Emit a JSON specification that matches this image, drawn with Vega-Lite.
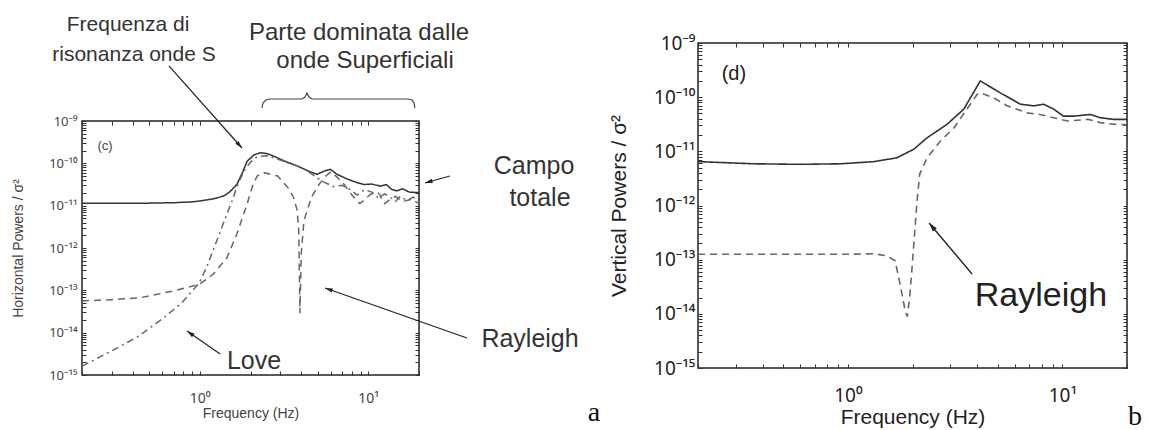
{
  "$schema": "https://vega.github.io/schema/vega-lite/v6.json",
  "background": "white",
  "autosize": {"type": "pad"},
  "padding": {"left": 10, "top": 13, "right": 0, "bottom": 0},
  "config": {
    "view": {"stroke": "#222", "strokeWidth": 1.5},
    "axis": {"grid": false, "domain": false, "tickColor": "#333", "tickSize": -4, "labelFont": "Noto Sans", "titleFont": "Liberation Sans", "titleFontWeight": "normal", "labelColor": "#333", "titleColor": "#333"},
    "text": {"font": "Liberation Sans"}
  },
  "datasets": {
    "leftCurves": [
      {"series": "total", "f": 0.2, "lp": -10.94}, {"series": "total", "f": 0.3, "lp": -10.94}, {"series": "total", "f": 0.5, "lp": -10.94}, {"series": "total", "f": 0.7, "lp": -10.93}, {"series": "total", "f": 0.9, "lp": -10.91}, {"series": "total", "f": 1.0, "lp": -10.89}, {"series": "total", "f": 1.2, "lp": -10.84}, {"series": "total", "f": 1.39, "lp": -10.77}, {"series": "total", "f": 1.5, "lp": -10.68}, {"series": "total", "f": 1.66, "lp": -10.5}, {"series": "total", "f": 1.8, "lp": -10.2}, {"series": "total", "f": 1.91, "lp": -9.95}, {"series": "total", "f": 2.1, "lp": -9.8}, {"series": "total", "f": 2.29, "lp": -9.75}, {"series": "total", "f": 2.5, "lp": -9.77}, {"series": "total", "f": 2.75, "lp": -9.83}, {"series": "total", "f": 3.2, "lp": -9.95}, {"series": "total", "f": 3.78, "lp": -10.06}, {"series": "total", "f": 4.4, "lp": -10.18}, {"series": "total", "f": 4.96, "lp": -10.26}, {"series": "total", "f": 5.5, "lp": -10.18}, {"series": "total", "f": 5.96, "lp": -10.14}, {"series": "total", "f": 6.52, "lp": -10.26}, {"series": "total", "f": 7.5, "lp": -10.37}, {"series": "total", "f": 8.5, "lp": -10.45}, {"series": "total", "f": 9.4, "lp": -10.5}, {"series": "total", "f": 10.5, "lp": -10.49}, {"series": "total", "f": 11.8, "lp": -10.54}, {"series": "total", "f": 12.8, "lp": -10.5}, {"series": "total", "f": 13.8, "lp": -10.62}, {"series": "total", "f": 14.8, "lp": -10.65}, {"series": "total", "f": 16, "lp": -10.6}, {"series": "total", "f": 17.5, "lp": -10.68}, {"series": "total", "f": 19.5, "lp": -10.69}, {"series": "total", "f": 20, "lp": -10.7},
      {"series": "rayleigh", "f": 0.2, "lp": -13.25}, {"series": "rayleigh", "f": 0.3, "lp": -13.22}, {"series": "rayleigh", "f": 0.435, "lp": -13.18}, {"series": "rayleigh", "f": 0.55, "lp": -13.1}, {"series": "rayleigh", "f": 0.684, "lp": -13.02}, {"series": "rayleigh", "f": 0.85, "lp": -12.93}, {"series": "rayleigh", "f": 1.0, "lp": -12.85}, {"series": "rayleigh", "f": 1.2, "lp": -12.62}, {"series": "rayleigh", "f": 1.45, "lp": -12.23}, {"series": "rayleigh", "f": 1.66, "lp": -11.67}, {"series": "rayleigh", "f": 1.91, "lp": -10.96}, {"series": "rayleigh", "f": 2.05, "lp": -10.55}, {"series": "rayleigh", "f": 2.19, "lp": -10.3}, {"series": "rayleigh", "f": 2.4, "lp": -10.22}, {"series": "rayleigh", "f": 2.9, "lp": -10.3}, {"series": "rayleigh", "f": 3.35, "lp": -10.58}, {"series": "rayleigh", "f": 3.6, "lp": -10.8}, {"series": "rayleigh", "f": 3.78, "lp": -11.1}, {"series": "rayleigh", "f": 3.87, "lp": -11.6}, {"series": "rayleigh", "f": 3.93, "lp": -13.54}, {"series": "rayleigh", "f": 4.0, "lp": -12.15}, {"series": "rayleigh", "f": 4.15, "lp": -11.36}, {"series": "rayleigh", "f": 4.6, "lp": -10.8}, {"series": "rayleigh", "f": 5.1, "lp": -10.5}, {"series": "rayleigh", "f": 5.6, "lp": -10.3}, {"series": "rayleigh", "f": 6.0, "lp": -10.2}, {"series": "rayleigh", "f": 6.5, "lp": -10.32}, {"series": "rayleigh", "f": 7.2, "lp": -10.5}, {"series": "rayleigh", "f": 8.0, "lp": -10.75}, {"series": "rayleigh", "f": 8.9, "lp": -10.95}, {"series": "rayleigh", "f": 9.6, "lp": -10.85}, {"series": "rayleigh", "f": 10.3, "lp": -10.73}, {"series": "rayleigh", "f": 11.5, "lp": -10.7}, {"series": "rayleigh", "f": 12.5, "lp": -10.95}, {"series": "rayleigh", "f": 13.5, "lp": -10.85}, {"series": "rayleigh", "f": 14.5, "lp": -10.78}, {"series": "rayleigh", "f": 16, "lp": -10.9}, {"series": "rayleigh", "f": 18, "lp": -10.85}, {"series": "rayleigh", "f": 20, "lp": -10.95},
      {"series": "love", "f": 0.2, "lp": -14.79}, {"series": "love", "f": 0.314, "lp": -14.39}, {"series": "love", "f": 0.435, "lp": -14.08}, {"series": "love", "f": 0.597, "lp": -13.68}, {"series": "love", "f": 0.78, "lp": -13.3}, {"series": "love", "f": 0.99, "lp": -12.83}, {"series": "love", "f": 1.1, "lp": -12.45}, {"series": "love", "f": 1.2, "lp": -12.05}, {"series": "love", "f": 1.3, "lp": -11.7}, {"series": "love", "f": 1.4, "lp": -11.35}, {"series": "love", "f": 1.55, "lp": -10.9}, {"series": "love", "f": 1.7, "lp": -10.45}, {"series": "love", "f": 1.85, "lp": -10.15}, {"series": "love", "f": 2.0, "lp": -9.97}, {"series": "love", "f": 2.2, "lp": -9.84}, {"series": "love", "f": 2.5, "lp": -9.82}, {"series": "love", "f": 3.0, "lp": -9.92}, {"series": "love", "f": 3.5, "lp": -10.02}, {"series": "love", "f": 4.0, "lp": -10.1}, {"series": "love", "f": 4.5, "lp": -10.22}, {"series": "love", "f": 5.0, "lp": -10.35}, {"series": "love", "f": 5.5, "lp": -10.45}, {"series": "love", "f": 6.2, "lp": -10.55}, {"series": "love", "f": 7.0, "lp": -10.52}, {"series": "love", "f": 7.8, "lp": -10.62}, {"series": "love", "f": 8.6, "lp": -10.75}, {"series": "love", "f": 9.5, "lp": -10.62}, {"series": "love", "f": 10.5, "lp": -10.68}, {"series": "love", "f": 11.5, "lp": -10.82}, {"series": "love", "f": 12.5, "lp": -10.72}, {"series": "love", "f": 13.5, "lp": -10.8}, {"series": "love", "f": 14.5, "lp": -10.9}, {"series": "love", "f": 15.5, "lp": -10.78}, {"series": "love", "f": 17, "lp": -10.88}, {"series": "love", "f": 18.5, "lp": -10.8}, {"series": "love", "f": 20, "lp": -10.9}
    ],
    "rightCurves": [
      {"series": "total", "f": 0.2, "lp": -11.19}, {"series": "total", "f": 0.364, "lp": -11.23}, {"series": "total", "f": 0.6, "lp": -11.24}, {"series": "total", "f": 0.923, "lp": -11.23}, {"series": "total", "f": 1.32, "lp": -11.19}, {"series": "total", "f": 1.69, "lp": -11.12}, {"series": "total", "f": 2.03, "lp": -10.96}, {"series": "total", "f": 2.34, "lp": -10.75}, {"series": "total", "f": 2.9, "lp": -10.5}, {"series": "total", "f": 3.47, "lp": -10.22}, {"series": "total", "f": 4.14, "lp": -9.7}, {"series": "total", "f": 5.13, "lp": -9.92}, {"series": "total", "f": 6.37, "lp": -10.13}, {"series": "total", "f": 7.35, "lp": -10.16}, {"series": "total", "f": 8.18, "lp": -10.13}, {"series": "total", "f": 9.1, "lp": -10.22}, {"series": "total", "f": 10.1, "lp": -10.35}, {"series": "total", "f": 11.3, "lp": -10.35}, {"series": "total", "f": 13.5, "lp": -10.32}, {"series": "total", "f": 15.0, "lp": -10.38}, {"series": "total", "f": 17.3, "lp": -10.41}, {"series": "total", "f": 20, "lp": -10.41},
      {"series": "rayleigh", "f": 0.2, "lp": -12.9}, {"series": "rayleigh", "f": 0.5, "lp": -12.9}, {"series": "rayleigh", "f": 1.0, "lp": -12.9}, {"series": "rayleigh", "f": 1.32, "lp": -12.89}, {"series": "rayleigh", "f": 1.52, "lp": -12.93}, {"series": "rayleigh", "f": 1.66, "lp": -13.02}, {"series": "rayleigh", "f": 1.75, "lp": -13.45}, {"series": "rayleigh", "f": 1.85, "lp": -13.95}, {"series": "rayleigh", "f": 1.89, "lp": -14.05}, {"series": "rayleigh", "f": 1.94, "lp": -13.7}, {"series": "rayleigh", "f": 1.99, "lp": -13.15}, {"series": "rayleigh", "f": 2.1, "lp": -11.92}, {"series": "rayleigh", "f": 2.16, "lp": -11.42}, {"series": "rayleigh", "f": 2.34, "lp": -11.12}, {"series": "rayleigh", "f": 2.7, "lp": -10.81}, {"series": "rayleigh", "f": 3.13, "lp": -10.56}, {"series": "rayleigh", "f": 3.72, "lp": -10.13}, {"series": "rayleigh", "f": 4.0, "lp": -9.95}, {"series": "rayleigh", "f": 4.14, "lp": -9.92}, {"series": "rayleigh", "f": 4.78, "lp": -10.01}, {"series": "rayleigh", "f": 5.52, "lp": -10.16}, {"series": "rayleigh", "f": 6.84, "lp": -10.29}, {"series": "rayleigh", "f": 7.85, "lp": -10.32}, {"series": "rayleigh", "f": 9.1, "lp": -10.38}, {"series": "rayleigh", "f": 10.6, "lp": -10.44}, {"series": "rayleigh", "f": 13.2, "lp": -10.41}, {"series": "rayleigh", "f": 15.0, "lp": -10.47}, {"series": "rayleigh", "f": 17.3, "lp": -10.5}, {"series": "rayleigh", "f": 20, "lp": -10.51}
    ],
    "brace": [
      {"f": 2.34, "lp": -8.693}, {"f": 2.37, "lp": -8.575}, {"f": 2.47, "lp": -8.504}, {"f": 2.61, "lp": -8.48}, {"f": 4.04, "lp": -8.48}, {"f": 4.21, "lp": -8.433}, {"f": 4.33, "lp": -8.339}, {"f": 4.45, "lp": -8.433}, {"f": 4.63, "lp": -8.48}, {"f": 17.2, "lp": -8.48}, {"f": 18.2, "lp": -8.504}, {"f": 18.7, "lp": -8.575}, {"f": 18.9, "lp": -8.693}
    ],
    "arrowsLeft": [
      {"f1": 0.656, "l1": -7.7, "f2": 1.78, "l2": -9.638, "heading": 138},
      {"f1": 30.5, "l1": -10.3, "f2": 21.7, "l2": -10.465, "heading": 254},
      {"f1": 38.5, "l1": -14.126, "f2": 5.54, "l2": -12.945, "heading": 289},
      {"f1": 1.32, "l1": -14.504, "f2": 0.84, "l2": -13.961, "heading": 305}
    ],
    "arrowsRight": [
      {"f1": 3.79, "l1": -13.264, "f2": 2.39, "l2": -12.323, "heading": 320}
    ]
  },
  "bounds": "flush",
  "spacing": 616,
  "hconcat": [
    {
      "bounds": "flush",
      "spacing": 0,
      "vconcat": [
        {
          "width": 337,
          "height": 78,
          "view": {"stroke": null},
          "data": {"values": [{}]},
          "mark": "text",
          "encoding": {"text": {"value": ""}}
        },
        {
          "width": 337,
          "height": 254,
          "resolve": {"axis": {"x": "independent", "y": "independent"}},
          "layer": [
            {
              "data": {"name": "leftCurves"},
              "mark": {"type": "line", "strokeWidth": 1.5},
              "encoding": {
                "x": {"field": "f", "type": "quantitative", "scale": {"type": "log", "domain": [0.2, 20], "nice": false},
                  "axis": {"title": "Frequency (Hz)", "values": [0.2, 0.3, 0.4, 0.5, 0.6, 0.7, 0.8, 0.9, 1, 2, 3, 4, 5, 6, 7, 8, 9, 10, 20], "labelExpr": "datum.value == 1 ? '10⁰' : (datum.value == 10 ? '10¹' : '')", "labelFontSize": 14, "titleFontSize": 14, "labelPadding": 20, "titlePadding": 1, "labelColor": "#444", "titleColor": "#444"}},
                "y": {"field": "lp", "type": "quantitative", "scale": {"domain": [-15, -9], "nice": false, "zero": false},
                  "axis": {"title": "Horizontal Powers / σ²", "values": [-15, -14.699, -14.523, -14.398, -14.301, -14.222, -14.155, -14.097, -14.046, -14, -13.699, -13.523, -13.398, -13.301, -13.222, -13.155, -13.097, -13.046, -13, -12.699, -12.523, -12.398, -12.301, -12.222, -12.155, -12.097, -12.046, -12, -11.699, -11.523, -11.398, -11.301, -11.222, -11.155, -11.097, -11.046, -11, -10.699, -10.523, -10.398, -10.301, -10.222, -10.155, -10.097, -10.046, -10, -9.699, -9.523, -9.398, -9.301, -9.222, -9.155, -9.097, -9.046, -9], "labelExpr": "datum.value == round(datum.value) ? ['10⁻¹⁵','10⁻¹⁴','10⁻¹³','10⁻¹²','10⁻¹¹','10⁻¹⁰','10⁻⁹'][datum.value + 15] : ''", "labelFontSize": 13, "titleFontSize": 14, "labelPadding": 9, "titlePadding": 23, "labelColor": "#444", "titleColor": "#444"}},
                "color": {"field": "series", "type": "nominal", "scale": {"domain": ["total", "rayleigh", "love"], "range": ["#333333", "#666666", "#666666"]}, "legend": null},
                "strokeDash": {"field": "series", "type": "nominal", "scale": {"domain": ["total", "rayleigh", "love"], "range": [[1, 0], [7, 5], [7, 4, 2, 4]]}, "legend": null}
              }
            },
            {
              "data": {"name": "leftCurves"},
              "mark": {"type": "point", "opacity": 0},
              "encoding": {
                "x": {"field": "f", "type": "quantitative", "scale": {"type": "log", "domain": [0.2, 20], "nice": false},
                  "axis": {"orient": "top", "labels": false, "title": null, "values": [0.2, 0.3, 0.4, 0.5, 0.6, 0.7, 0.8, 0.9, 1, 2, 3, 4, 5, 6, 7, 8, 9, 10, 20]}},
                "y": {"field": "lp", "type": "quantitative", "scale": {"domain": [-15, -9], "nice": false, "zero": false},
                  "axis": {"orient": "right", "labels": false, "title": null, "values": [-15, -14.699, -14.523, -14.398, -14.301, -14.222, -14.155, -14.097, -14.046, -14, -13.699, -13.523, -13.398, -13.301, -13.222, -13.155, -13.097, -13.046, -13, -12.699, -12.523, -12.398, -12.301, -12.222, -12.155, -12.097, -12.046, -12, -11.699, -11.523, -11.398, -11.301, -11.222, -11.155, -11.097, -11.046, -11, -10.699, -10.523, -10.398, -10.301, -10.222, -10.155, -10.097, -10.046, -10, -9.699, -9.523, -9.398, -9.301, -9.222, -9.155, -9.097, -9.046, -9]}}
              }
            },
            {
              "data": {"name": "brace"},
              "mark": {"type": "line", "color": "#444", "strokeWidth": 1.2},
              "encoding": {
                "x": {"field": "f", "type": "quantitative", "scale": {"type": "log", "domain": [0.2, 20], "nice": false}, "axis": null},
                "y": {"field": "lp", "type": "quantitative", "scale": {"domain": [-15, -9], "nice": false, "zero": false}, "axis": null}
              }
            },
            {
              "data": {"name": "arrowsLeft"},
              "mark": {"type": "rule", "color": "#222", "strokeWidth": 1.2},
              "encoding": {
                "x": {"field": "f1", "type": "quantitative", "scale": {"type": "log", "domain": [0.2, 20], "nice": false}, "axis": null},
                "y": {"field": "l1", "type": "quantitative", "scale": {"domain": [-15, -9], "nice": false, "zero": false}, "axis": null},
                "x2": {"field": "f2"},
                "y2": {"field": "l2"}
              }
            },
            {
              "data": {"name": "arrowsLeft"},
              "mark": {"type": "point", "shape": "M0,0L0.55,1.9L-0.55,1.9Z", "filled": true, "size": 64, "color": "#222", "opacity": 1},
              "encoding": {
                "x": {"field": "f2", "type": "quantitative", "scale": {"type": "log", "domain": [0.2, 20], "nice": false}, "axis": null},
                "y": {"field": "l2", "type": "quantitative", "scale": {"domain": [-15, -9], "nice": false, "zero": false}, "axis": null},
                "angle": {"field": "heading", "type": "quantitative", "scale": null}
              }
            },
            {
              "data": {"values": [{"f": 0.375, "lp": -6.73, "label": "Frequenza di"}, {"f": 0.407, "lp": -7.44, "label": "risonanza onde S"}]},
              "mark": {"type": "text", "fontSize": 21, "color": "#333", "align": "center", "baseline": "middle"},
              "encoding": {
                "x": {"field": "f", "type": "quantitative", "scale": {"type": "log", "domain": [0.2, 20], "nice": false}, "axis": null},
                "y": {"field": "lp", "type": "quantitative", "scale": {"domain": [-15, -9], "nice": false, "zero": false}, "axis": null},
                "text": {"field": "label"}
              }
            },
            {
              "data": {"values": [{"f": 8.81, "lp": -6.92, "label": "Parte dominata dalle"}, {"f": 9.57, "lp": -7.58, "label": "onde Superficiali"}]},
              "mark": {"type": "text", "fontSize": 24, "color": "#333", "align": "center", "baseline": "middle"},
              "encoding": {
                "x": {"field": "f", "type": "quantitative", "scale": {"type": "log", "domain": [0.2, 20], "nice": false}, "axis": null},
                "y": {"field": "lp", "type": "quantitative", "scale": {"domain": [-15, -9], "nice": false, "zero": false}, "axis": null},
                "text": {"field": "label"}
              }
            },
            {
              "data": {"values": [{"f": 96.4, "lp": -10.063, "label": "Campo"}, {"f": 104.5, "lp": -10.819, "label": "totale"}, {"f": 91.2, "lp": -14.15, "label": "Rayleigh"}, {"f": 2.1, "lp": -14.67, "label": "Love"}]},
              "mark": {"type": "text", "fontSize": 25, "color": "#333", "align": "center", "baseline": "middle"},
              "encoding": {
                "x": {"field": "f", "type": "quantitative", "scale": {"type": "log", "domain": [0.2, 20], "nice": false}, "axis": null},
                "y": {"field": "lp", "type": "quantitative", "scale": {"domain": [-15, -9], "nice": false, "zero": false}, "axis": null},
                "text": {"field": "label"}
              }
            },
            {
              "data": {"values": [{"f": 0.274, "lp": -9.59, "label": "(c)"}]},
              "mark": {"type": "text", "fontSize": 13, "color": "#444", "align": "center", "baseline": "middle"},
              "encoding": {
                "x": {"field": "f", "type": "quantitative", "scale": {"type": "log", "domain": [0.2, 20], "nice": false}, "axis": null},
                "y": {"field": "lp", "type": "quantitative", "scale": {"domain": [-15, -9], "nice": false, "zero": false}, "axis": null},
                "text": {"field": "label"}
              }
            },
            {
              "data": {"values": [{"f": 218.8, "lp": -15.9, "label": "a"}]},
              "mark": {"type": "text", "fontSize": 28, "font": "Liberation Serif", "color": "#111", "align": "center", "baseline": "middle"},
              "encoding": {
                "x": {"field": "f", "type": "quantitative", "scale": {"type": "log", "domain": [0.2, 20], "nice": false}, "axis": null},
                "y": {"field": "lp", "type": "quantitative", "scale": {"domain": [-15, -9], "nice": false, "zero": false}, "axis": null},
                "text": {"field": "label"}
              }
            }
          ]
        }
      ]
    },
    {
      "width": 429,
      "height": 325,
      "resolve": {"axis": {"x": "independent", "y": "independent"}},
      "layer": [
        {
          "data": {"name": "rightCurves"},
          "mark": {"type": "line", "strokeWidth": 1.6},
          "encoding": {
            "x": {"field": "f", "type": "quantitative", "scale": {"type": "log", "domain": [0.2, 20], "nice": false},
              "axis": {"title": "Frequency (Hz)", "values": [0.2, 0.3, 0.4, 0.5, 0.6, 0.7, 0.8, 0.9, 1, 2, 3, 4, 5, 6, 7, 8, 9, 10, 20], "labelExpr": "datum.value == 1 ? '10⁰' : (datum.value == 10 ? '10¹' : '')", "labelFontSize": 19, "titleFontSize": 21, "labelPadding": 22, "titlePadding": 1, "labelColor": "#222", "titleColor": "#222"}},
            "y": {"field": "lp", "type": "quantitative", "scale": {"domain": [-15, -9], "nice": false, "zero": false},
              "axis": {"title": "Vertical Powers / σ²", "values": [-15, -14.699, -14.523, -14.398, -14.301, -14.222, -14.155, -14.097, -14.046, -14, -13.699, -13.523, -13.398, -13.301, -13.222, -13.155, -13.097, -13.046, -13, -12.699, -12.523, -12.398, -12.301, -12.222, -12.155, -12.097, -12.046, -12, -11.699, -11.523, -11.398, -11.301, -11.222, -11.155, -11.097, -11.046, -11, -10.699, -10.523, -10.398, -10.301, -10.222, -10.155, -10.097, -10.046, -10, -9.699, -9.523, -9.398, -9.301, -9.222, -9.155, -9.097, -9.046, -9], "labelExpr": "datum.value == round(datum.value) ? ['10⁻¹⁵','10⁻¹⁴','10⁻¹³','10⁻¹²','10⁻¹¹','10⁻¹⁰','10⁻⁹'][datum.value + 15] : ''", "labelFontSize": 19, "titleFontSize": 21, "labelPadding": 7, "titlePadding": 24, "labelColor": "#222", "titleColor": "#222"}},
            "color": {"field": "series", "type": "nominal", "scale": {"domain": ["total", "rayleigh"], "range": ["#333333", "#555555"]}, "legend": null},
            "strokeDash": {"field": "series", "type": "nominal", "scale": {"domain": ["total", "rayleigh"], "range": [[1, 0], [12, 8]]}, "legend": null}
          }
        },
        {
          "data": {"name": "rightCurves"},
          "mark": {"type": "point", "opacity": 0},
          "encoding": {
            "x": {"field": "f", "type": "quantitative", "scale": {"type": "log", "domain": [0.2, 20], "nice": false},
              "axis": {"orient": "top", "labels": false, "title": null, "values": [0.2, 0.3, 0.4, 0.5, 0.6, 0.7, 0.8, 0.9, 1, 2, 3, 4, 5, 6, 7, 8, 9, 10, 20]}},
            "y": {"field": "lp", "type": "quantitative", "scale": {"domain": [-15, -9], "nice": false, "zero": false},
              "axis": {"orient": "right", "labels": false, "title": null, "values": [-15, -14.699, -14.523, -14.398, -14.301, -14.222, -14.155, -14.097, -14.046, -14, -13.699, -13.523, -13.398, -13.301, -13.222, -13.155, -13.097, -13.046, -13, -12.699, -12.523, -12.398, -12.301, -12.222, -12.155, -12.097, -12.046, -12, -11.699, -11.523, -11.398, -11.301, -11.222, -11.155, -11.097, -11.046, -11, -10.699, -10.523, -10.398, -10.301, -10.222, -10.155, -10.097, -10.046, -10, -9.699, -9.523, -9.398, -9.301, -9.222, -9.155, -9.097, -9.046, -9]}}
          }
        },
        {
          "data": {"name": "arrowsRight"},
          "mark": {"type": "rule", "color": "#222", "strokeWidth": 1.4},
          "encoding": {
            "x": {"field": "f1", "type": "quantitative", "scale": {"type": "log", "domain": [0.2, 20], "nice": false}, "axis": null},
            "y": {"field": "l1", "type": "quantitative", "scale": {"domain": [-15, -9], "nice": false, "zero": false}, "axis": null},
            "x2": {"field": "f2"},
            "y2": {"field": "l2"}
          }
        },
        {
          "data": {"name": "arrowsRight"},
          "mark": {"type": "point", "shape": "M0,0L0.55,1.9L-0.55,1.9Z", "filled": true, "size": 90, "color": "#222", "opacity": 1},
          "encoding": {
            "x": {"field": "f2", "type": "quantitative", "scale": {"type": "log", "domain": [0.2, 20], "nice": false}, "axis": null},
            "y": {"field": "l2", "type": "quantitative", "scale": {"domain": [-15, -9], "nice": false, "zero": false}, "axis": null},
            "angle": {"field": "heading", "type": "quantitative", "scale": null}
          }
        },
        {
          "data": {"values": [{"f": 7.94, "lp": -13.67, "label": "Rayleigh"}]},
          "mark": {"type": "text", "fontSize": 34, "color": "#222", "align": "center", "baseline": "middle"},
          "encoding": {
            "x": {"field": "f", "type": "quantitative", "scale": {"type": "log", "domain": [0.2, 20], "nice": false}, "axis": null},
            "y": {"field": "lp", "type": "quantitative", "scale": {"domain": [-15, -9], "nice": false, "zero": false}, "axis": null},
            "text": {"field": "label"}
          }
        },
        {
          "data": {"values": [{"f": 0.294, "lp": -9.572, "label": "(d)"}]},
          "mark": {"type": "text", "fontSize": 20, "color": "#222", "align": "center", "baseline": "middle"},
          "encoding": {
            "x": {"field": "f", "type": "quantitative", "scale": {"type": "log", "domain": [0.2, 20], "nice": false}, "axis": null},
            "y": {"field": "lp", "type": "quantitative", "scale": {"domain": [-15, -9], "nice": false, "zero": false}, "axis": null},
            "text": {"field": "label"}
          }
        },
        {
          "data": {"values": [{"f": 21.8, "lp": -15.9, "label": "b"}]},
          "mark": {"type": "text", "fontSize": 28, "font": "Liberation Serif", "color": "#111", "align": "center", "baseline": "middle"},
          "encoding": {
            "x": {"field": "f", "type": "quantitative", "scale": {"type": "log", "domain": [0.2, 20], "nice": false}, "axis": null},
            "y": {"field": "lp", "type": "quantitative", "scale": {"domain": [-15, -9], "nice": false, "zero": false}, "axis": null},
            "text": {"field": "label"}
          }
        }
      ]
    }
  ]
}
